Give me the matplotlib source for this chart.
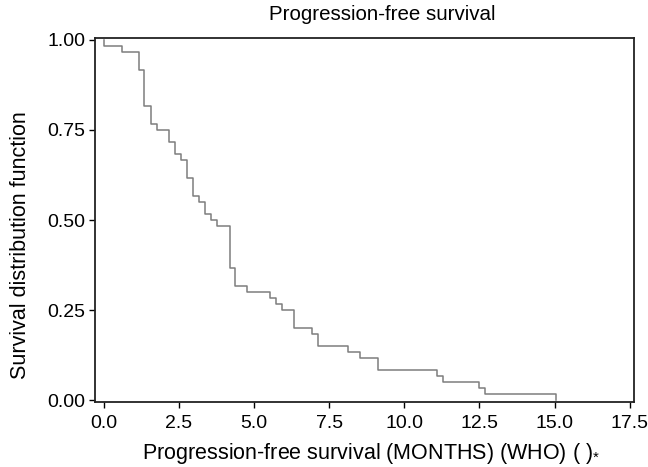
import matplotlib
matplotlib.use("Agg")
import matplotlib.pyplot as plt

plt.rcParams['font.family'] = ['Liberation Sans', 'DejaVu Sans']
plt.rcParams['mathtext.fontset'] = 'custom'
plt.rcParams['mathtext.rm'] = 'Liberation Sans'
plt.rcParams['mathtext.it'] = 'Liberation Sans'

# Kaplan-Meier step data (months, survival)
times = [0.0, 0.02, 0.60, 1.19, 1.36, 1.58, 1.78, 2.19, 2.39, 2.58, 2.78, 2.98,
         3.18, 3.38, 3.57, 3.76, 4.19, 4.38, 4.76, 5.55, 5.75, 5.95, 6.35, 6.94,
         7.14, 8.13, 8.53, 9.13, 11.09, 11.29, 12.49, 12.69, 15.06]
surv = [1.000, 0.983, 0.967, 0.917, 0.817, 0.767, 0.750, 0.717, 0.683, 0.667,
        0.617, 0.567, 0.550, 0.517, 0.500, 0.483, 0.367, 0.317, 0.300, 0.283,
        0.267, 0.250, 0.200, 0.183, 0.150, 0.133, 0.117, 0.083, 0.067, 0.050,
        0.033, 0.017, 0.000]

xticks = [0.0, 2.5, 5.0, 7.5, 10.0, 12.5, 15.0, 17.5]
xticklabels = ["0.0", "2.5", "5.0", "7.5", "10.0", "12.5", "15.0", "17.5"]
yticks = [0.0, 0.25, 0.5, 0.75, 1.0]
yticklabels = ["0.00", "0.25", "0.50", "0.75", "1.00"]

title = "Progression-free survival"
xlabel = "Progression-free survival (MONTHS) (WHO) ( )$_{*}$"
ylabel = "Survival distribution function"

fig = plt.figure(figsize=(6.48, 4.67), dpi=100)
ax = fig.add_axes([0.1466, 0.1385, 0.8323, 0.7808])

ax.step(times, surv, where='post', color='#7d7d7d', linewidth=1.1)

ax.set_xlim(-0.283, 17.65)
ax.set_ylim(-0.0064, 1.0064)
ax.set_xticks(xticks)
ax.set_xticklabels(xticklabels)
ax.set_yticks(yticks)
ax.set_yticklabels(yticklabels)
ax.tick_params(direction='out', length=4, width=1.0, labelsize=14, colors='black')
ax.tick_params(axis='x', pad=5)
ax.tick_params(axis='y', pad=3)

for s in ax.spines.values():
    s.set_linewidth(1.3)
    s.set_color('#222222')

ax.set_title(title, fontsize=14.8, pad=13, x=0.532)
ax.set_xlabel(xlabel, fontsize=15.5, labelpad=7)
ax.xaxis.set_label_coords(0.511, -0.105)
ax.set_ylabel(ylabel, fontsize=15.5)
ax.yaxis.set_label_coords(-0.118, 0.43)

fig.savefig("out.png", dpi=100)
